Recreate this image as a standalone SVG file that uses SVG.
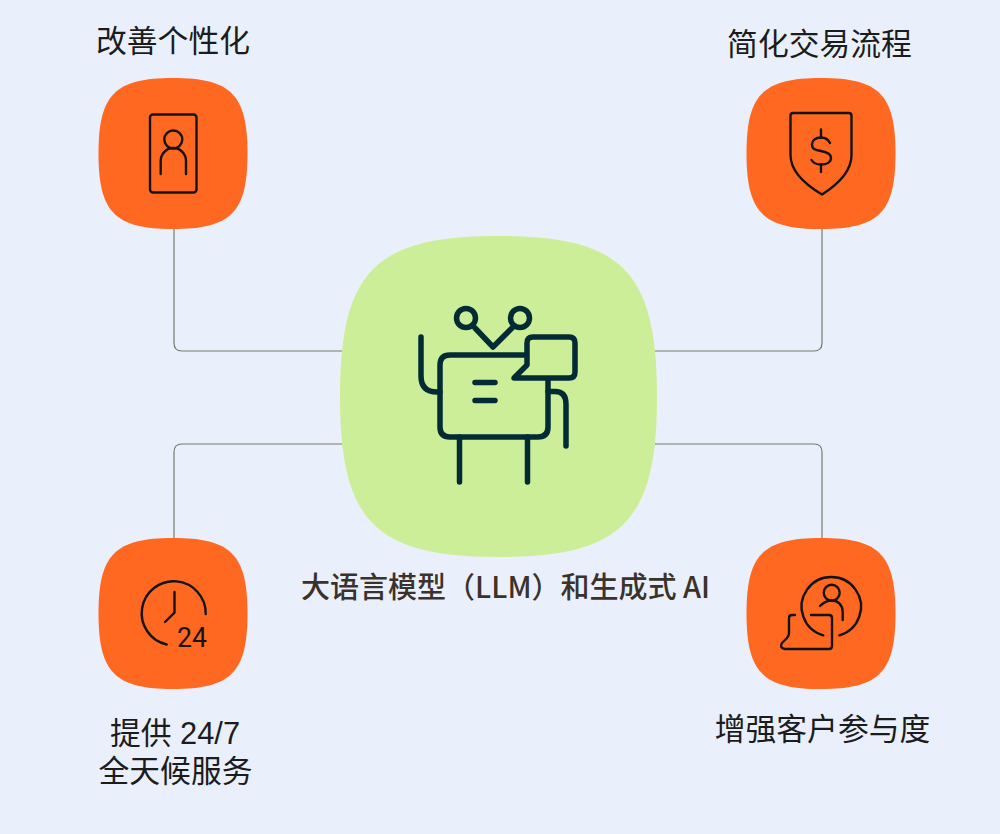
<svg xmlns="http://www.w3.org/2000/svg" width="1000" height="834" viewBox="0 0 1000 834">
<style>
.t{font-family:"Liberation Sans","Noto Sans CJK SC",sans-serif;font-size:30.8px;fill:#1c1c1c;text-anchor:middle}
.c{font-family:"Noto Sans CJK SC",sans-serif;font-size:29px;font-weight:500;fill:#3b322c;text-anchor:middle}
.o{fill:#ff6820}
.i{fill:none;stroke:#141414;stroke-width:2.400;stroke-linecap:round;stroke-linejoin:round}
.r{fill:none;stroke:#032b35;stroke-width:5.500;stroke-linecap:round;stroke-linejoin:round}
#conn path{fill:none;stroke:#707a74;stroke-width:1.200}
</style>
<defs>
<path id="blob" d="M0-1C.78-1 1-.78 1 0C1 .78 .78 1 0 1C-.78 1-1 .78-1 0C-1-.78-.78-1 0-1Z"/>
</defs>
<rect width="1000" height="834" fill="#eaf0fb"/>
<g id="conn">
<path d="M174 229V343Q174 351 182 351H342"/>
<path d="M822 229V343Q822 351 814 351H655"/>
<path d="M174 539V452Q174 444 182 444H342"/>
<path d="M822 539V452Q822 444 814 444H655"/>
</g>
<g id="n-center">
<use href="#blob" fill="#cdee98" transform="translate(498.500 396.500) scale(158.500 160.500)"/>
<circle class="r" cx="466" cy="318" r="9.500"/>
<circle class="r" cx="520" cy="318" r="9.500"/>
<path class="r" d="M475 328L493 347L512 328"/>
<path class="r" d="M526 355H450Q440 355 440 365V427Q440 437 450 437H538Q548 437 548 427V379"/>
<path class="r" d="M527 365V343Q527 337 533 337H569Q575 337 575 343V372Q575 378 569 378H514Z"/>
<path class="r" d="M475 382.500H495M475 400.500H495"/>
<path class="r" d="M421 337V376Q421 392 437 392H440"/>
<path class="r" d="M548 391.500H555Q566 391.500 566 404V446"/>
<path class="r" d="M459.500 437V482M527.500 437V482"/>
<text class="c" x="505.500" y="598">大语言模型（LLM）和生成式 AI</text>
</g>
<g id="n-personal">
<text class="t" x="173" y="52">改善个性化</text>
<use href="#blob" class="o" transform="translate(173 153.500) scale(74.500 75.500)"/>
<rect class="i" x="150" y="114.500" width="46.500" height="78" rx="3"/>
<circle class="i" cx="173.300" cy="139.500" r="9"/>
<path class="i" d="M160.700 174V161A12.650 13 0 0 1 186 161V174"/>
</g>
<g id="n-trade">
<text class="t" x="819.500" y="55">简化交易流程</text>
<use href="#blob" class="o" transform="translate(821 153.500) scale(74.500 75.500)"/>
<path class="i" d="M790.500 116Q790.500 113 793 113H849Q851.500 113 851.500 116V155C851.500 172 837 185 822 194.500C806 185 790.500 172 790.500 155Z"/>
<path class="i" d="M821 129.500V137.500M821 164.500V172"/>
<path class="i" d="M830 143C828 139 825 137.500 821 137.500C815 137.500 812 141 812 144.500C812 149 815 150 821 151C827 152 831 154 831 158C831 162 827 164.500 821 164.500C816 164.500 813 162.500 811.500 160"/>
</g>
<g id="n-247">
<use href="#blob" class="o" transform="translate(173 613.500) scale(74.500 75.500)"/>
<path class="i" d="M205.700 614A32 32 0 1 0 166.700 644.500"/>
<path class="i" d="M174.500 592V612.700L165 622"/>
<text x="192" y="647" text-anchor="middle" textLength="30" lengthAdjust="spacingAndGlyphs" font-family="Roboto,sans-serif" font-weight="400" font-size="27" fill="#141414">24</text>
<text class="t" x="175" y="744">提供 24/7</text>
<text class="t" x="175.500" y="782">全天候服务</text>
</g>
<g id="n-engage">
<use href="#blob" class="o" transform="translate(821 613.500) scale(74.500 75.500)"/>
<path class="i" d="M823.300 635.300A29.700 29.700 0 1 1 839.300 635.300"/>
<circle class="i" cx="831.700" cy="592.700" r="8"/>
<path class="i" d="M820 606C823 603 827 600.500 832 600.500C838 600.500 842.700 605 842.700 612V620"/>
<path class="i" d="M795 615H792Q789 615 789 618V633Q789 636 787 638L782 643Q779 648 785 649H829Q832 649 832 646V618Q832 615 829 615H811"/>
<text class="t" x="822.500" y="740">增强客户参与度</text>
</g>
</svg>
